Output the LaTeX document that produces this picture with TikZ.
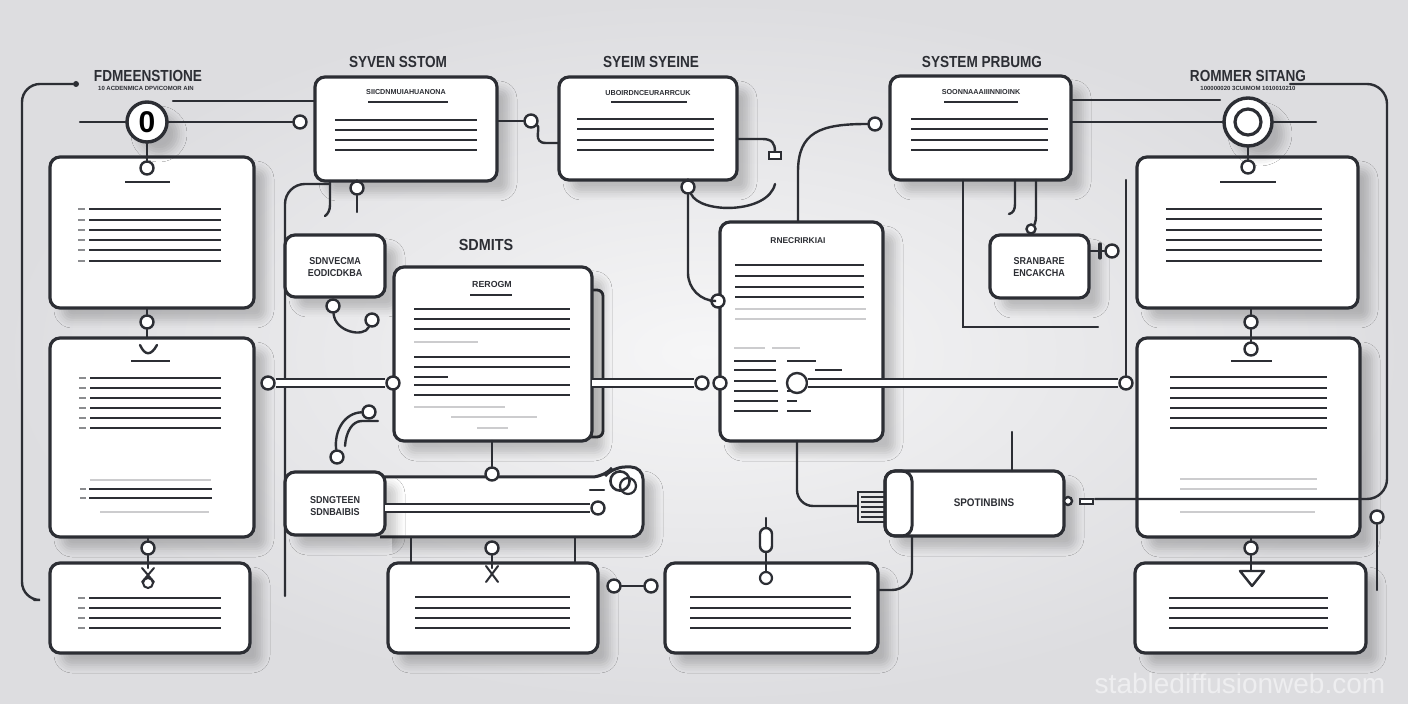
\documentclass[tikz,border=0pt]{standalone}
\usepackage{fontspec}
\setmainfont{Liberation Sans}
\usepackage{graphicx}
\usetikzlibrary{shadows.blur}
\definecolor{ink}{RGB}{44,46,52}
\definecolor{lgray}{RGB}{204,204,206}
\definecolor{bgin}{RGB}{246,246,247}
\definecolor{bgout}{RGB}{221,221,224}
\definecolor{wm}{RGB}{238,238,240}
\newcommand\sq[2]{\scalebox{#1}[1]{#2}}
\newcommand\mkbox[6][]{\node[box,#1,minimum width={(#5-#3)*0.5pt},minimum height={(#6-#4)*0.5pt}] (#2) at ({(#3+#5)/2},{(#4+#6)/2}) {};}
\newcommand\dline[3]{\draw[txt] (#1,#3) -- (#2,#3);}
\newcommand\gline[3]{\draw[gtxt] (#1,#3) -- (#2,#3);}
\newcommand\tick[3]{\draw[tk] (#1,#3) -- (#2,#3);}
\tikzset{
 shd/.style={blur shadow={shadow xshift=6pt,shadow yshift=-6pt,shadow blur radius=4pt,shadow opacity=20}},
 box/.style={draw=ink,line width=1.6pt,fill=white,rounded corners=5pt,inner sep=0pt,outer sep=0pt,shd},
 txt/.style={draw=ink,line width=1pt},
 gtxt/.style={draw=lgray,line width=1.3pt},
 tk/.style={draw=ink!55,line width=0.6pt},
 conn/.style={draw=ink,line width=1.2pt,line cap=round},
 pipe/.style={draw=ink,line width=1.1pt,double=white,double distance=2.6pt},
 pin/.style={circle,draw=ink,line width=1.2pt,fill=white,minimum size=6.5pt,inner sep=0pt},
 dot/.style={circle,fill=ink,minimum size=3pt,inner sep=0pt},
 bigc/.style={circle,draw=ink,line width=1.7pt,fill=white,inner sep=0pt,shd},
 title/.style={font=\bfseries\fontsize{8}{8}\selectfont,text=ink,inner sep=0pt},
 sub/.style={font=\bfseries\fontsize{3}{3}\selectfont,text=ink,inner sep=0pt},
 hdr/.style={font=\bfseries\fontsize{3.6}{3.6}\selectfont,text=ink,inner sep=0pt},
 lbl/.style={font=\bfseries\fontsize{5}{5.8}\selectfont,text=ink,inner sep=0pt,align=center},
}
\begin{document}
\begin{tikzpicture}[x=0.5pt,y=-0.5pt]
\useasboundingbox (0,0) rectangle (1408,704);
\shade[inner color=bgin,outer color=bgout] (0,0) rectangle (1408,704);

% ---------- titles
\node[title] (h1) at (148,76) {\sq{0.85}{FDMEENSTIONE}};
\node[sub] (h1s) at (146,88) {10 ACDENMICA DPVICOMOR AIN};
\node[title] (h2) at (398,62) {\sq{0.85}{SYVEN SSTOM}};
\node[title] (h3) at (651,62) {\sq{0.85}{SYEIM SYEINE}};
\node[title] (h4) at (982,62) {\sq{0.85}{SYSTEM PRBUMG}};
\node[title] (h5) at (1248,76) {\sq{0.85}{ROMMER SITANG}};
\node[sub] (h5s) at (1248,88) {100000020 3CUIMOM 1010010210};
\node[title] (h6) at (486,245) {\sq{0.9}{SDMITS}};
\node[font=\fontsize{14}{14}\selectfont,text=wm,inner sep=0pt] (wmk) at (1240,683) {stablediffusionweb.com};

% ---------- back page of D1 and bar of S4
\draw[ink,line width=1.4pt,fill=gray!25,rounded corners=3pt] (570,290) rectangle (603,437);
\draw[draw=ink,line width=1.5pt,fill=white,rounded corners=6pt,shd] (380,477) -- (604,477) -- (613,467) -- (643,467) -- (643,537) -- (380,537);
\draw[ink,line width=1pt,fill=gray!18] (858,492) rectangle (886,522);
\foreach \yy in {497,502,507,512,517} \draw[ink,line width=0.6pt] (861,\yy) -- (884,\yy);

% ---------- boxes
\mkbox{L1}{50}{157}{254}{308}
\mkbox{L2}{50}{338}{254}{537}
\mkbox{L3}{50}{563}{250}{653}
\mkbox{T1}{315}{77}{497}{181}
\mkbox{T2}{559}{77}{737}{180}
\mkbox{T3}{890}{76}{1071}{180}
\mkbox{R1}{1137}{157}{1358}{308}
\mkbox{R2}{1137}{338}{1360}{537}
\mkbox{R3}{1135}{563}{1366}{653}
\mkbox{S1}{285}{235}{385}{297}
\mkbox{D1}{394}{267}{592}{441}
\mkbox{D2}{720}{222}{883}{441}
\mkbox{S2}{990}{235}{1089}{298}
\mkbox{S4}{285}{472}{385}{535}
\mkbox{B1}{388}{563}{598}{653}
\mkbox{B2}{665}{563}{878}{653}
\mkbox{S3}{885}{471}{1064}{536}
\draw[ink,line width=1.5pt,rounded corners=5pt] (885,471) rectangle (912,536);

% ---------- box labels
\node[lbl] (s1t) at (335,267) {\sq{0.9}{SDNVECMA}\\\sq{0.9}{EODICDKBA}};
\node[lbl] (s2t) at (1039,267) {\sq{0.9}{SRANBARE}\\\sq{0.9}{ENCAKCHA}};
\node[lbl] (s4t) at (335,506) {\sq{0.9}{SDNGTEEN}\\\sq{0.9}{SDNBAIBIS}};
\node[lbl,font=\bfseries\fontsize{5.5}{5.5}\selectfont] (s3t) at (984,503) {\sq{0.9}{SPOTINBINS}};

% ---------- content of T1, T2, T3
\node[hdr] (t1h) at (406,92) {SIICDNMUIAHUANONA};
\dline{368}{448}{102}
\foreach \yy in {120,130,140,150} {\dline{335}{477}{\yy}}
\node[hdr] (t2h) at (648,93) {UBOIRDNCEURARRCUK};
\dline{611}{687}{102}
\foreach \yy in {119,129,140,150} {\dline{577}{714}{\yy}}
\node[hdr] (t3h) at (981,92) {SOONNAAAIIINNIOINK};
\dline{944}{1018}{102}
\foreach \yy in {119,129,140,150} {\dline{911}{1048}{\yy}}

% ---------- content of L1, L2, L3
\dline{125}{170}{182}
\foreach \yy in {209,220,230,240,250,261} {\dline{89}{221}{\yy}\tick{78}{85}{\yy}}
\draw[conn] (140,345) .. controls (145,356) and (151,356) .. (157,345);
\dline{131}{170}{361}
\foreach \yy in {378,388,398,408,418,428} {\dline{90}{221}{\yy}\tick{79}{86}{\yy}}
\gline{90}{211}{480}
\dline{89}{212}{489}
\dline{89}{212}{498}
\tick{80}{86}{489}\tick{80}{86}{498}
\gline{100}{209}{512}
\foreach \yy in {598,608,618,628} {\dline{89}{221}{\yy}\tick{78}{85}{\yy}}

% ---------- content of R1, R2, R3
\dline{1220}{1276}{182}
\foreach \yy in {209,219,230,240,250,261} {\dline{1166}{1322}{\yy}}
\dline{1231}{1272}{361}
\foreach \yy in {377,388,398,408,418,428} {\dline{1170}{1327}{\yy}}
\gline{1180}{1317}{479}
\gline{1180}{1317}{489}
\gline{1180}{1315}{512}
\foreach \yy in {598,608,618,628} {\dline{1169}{1328}{\yy}}

% ---------- content of D1
\node[hdr,font=\bfseries\fontsize{4.4}{4.4}\selectfont] (d1h) at (492,284) {REROGM};
\dline{470}{512}{295}
\foreach \yy in {309,319,329,357,367,385,395} {\dline{414}{570}{\yy}}
\gline{414}{478}{342}
\dline{414}{448}{377}
\gline{414}{505}{407}
\gline{451}{537}{417}
\gline{477}{508}{428}

% ---------- content of D2
\node[hdr,font=\bfseries\fontsize{4.2}{4.2}\selectfont] (d2h) at (798,241) {RNECRIRKIAI};
\foreach \yy in {265,276,287,297} {\dline{735}{864}{\yy}}
\gline{735}{866}{309}
\gline{735}{866}{319}
\gline{734}{765}{348}
\gline{772}{800}{348}
\dline{734}{776}{361}\dline{787}{816}{361}
\dline{734}{776}{370}\dline{815}{842}{370}
\dline{734}{776}{381}
\dline{734}{778}{391}\dline{787}{802}{391}
\dline{734}{778}{401}\dline{787}{797}{401}
\dline{734}{778}{411}\dline{787}{811}{411}

% ---------- content of B1, B2
\foreach \yy in {597,608,618,628} {\dline{415}{570}{\yy}\dline{690}{851}{\yy}}

% ---------- left frame and left circle
\node[dot] (lfd) at (76,84) {};
\coordinate (lfe) at (34,600);
\draw[conn,rounded corners=9pt] (lfd) -- (22,84) -- (22,600) -- (lfe);
\node[bigc,minimum size=20pt] (c0) at (147,122) {\bfseries\fontsize{15}{15}\selectfont 0};
\coordinate (c0l) at (80,122);
\node[pin] (p1) at (300,122) {};
\draw[conn] (c0l) -- (c0);
\draw[conn] (c0) -- (p1);
\coordinate (a1) at (173,101);
\draw[conn] (a1) -- (a1 -| T1.west);
\node[pin] (p2) at (147,168) {};
\draw[conn] (c0) -- (p2);

% ---------- left column pins
\node[pin] (p3) at (147,322) {};
\draw[conn] (p3 |- L1.south) -- (p3);
\draw[conn] (p3) -- (p3 |- L2.north);
\node[pin] (p4) at (148,548) {};
\draw[conn] (p4 |- L2.south) -- (p4);
\coordinate (k0) at (148,568);
\draw[conn] (p4) -- (k0);
\draw[conn,line width=1pt] (142,568) -- (154,582) (154,568) -- (142,582);
\draw[ink,line width=1pt,fill=white] (148,583) circle (2.5pt);

% ---------- T1 and T2 connectors
\node[pin] (p5) at (531,121) {};
\draw[conn] (T1.east |- p5) -- (p5);
\coordinate (k1) at (546,143);
\draw[conn] (p5) .. controls (541,128) and (532,143) .. (k1) -- (k1 -| T2.west);
\coordinate (k2) at (762,139);
\draw[conn] (k2 -| T2.east) -- (k2) .. controls (772,139) and (775,143) .. (775,152);
\draw[ink,line width=1pt,fill=white] (769,152) rectangle (781,159);
\node[pin] (p6) at (688,187) {};
\draw[conn] (p6 |- T2.south) -- (p6);
\node[pin] (p7) at (718,301) {};
\draw[conn,rounded corners=14pt] (p6) -- (688,301) -- (p7);
\coordinate (k3) at (775,184);
\draw[conn] (p6) .. controls (700,214) and (768,214) .. (k3);
\node[pin] (p8) at (875,124) {};
\coordinate (k4) at (798,172);
\draw[conn] (p8) .. controls (820,124) and (798,132) .. (k4) -- (k4 |- D2.north);

% ---------- T1 hooks and left vertical line
\coordinate (k5) at (330,205);
\draw[conn] (k5 |- T1.south) -- (k5) .. controls (330,210) and (328,214) .. (325,216);
\coordinate (vl1) at (285,596);
\coordinate (vl2) at (330,184);
\draw[conn,rounded corners=10pt] (vl2) -- (285,184) -- (vl1);
\node[pin] (p9) at (357,188) {};
\draw[conn] (p9 |- T1.south) -- (p9);
\coordinate (k5b) at (357,212);
\draw[conn] (p9) -- (k5b);

% ---------- S1 wiggle and arc
\node[pin] (p10) at (333,306) {};
\node[pin] (p11) at (372,320) {};
\draw[conn] (p10) .. controls (335,332) and (364,338) .. (p11);
\node[pin] (p12) at (369,412) {};
\node[pin] (p13) at (337,457) {};
\draw[conn] (p12) .. controls (345,413) and (334,430) .. (p13);
\coordinate (k6a) at (378,421);
\draw[conn] (k6a) -- (362,421) .. controls (352,421) and (346,432) .. (345,446);

% ---------- pipes at y 383
\node[pin] (p14) at (268,383) {};
\node[pin] (p15) at (393,383) {};
\draw[pipe] (p14) -- (p15);
\node[pin] (p16) at (702,383) {};
\node[pin] (p17) at (720,383) {};
\draw[pipe] (p16 -| D1.east) -- (p16);
\node[pin] (p19) at (1126,383) {};
\node[pin,minimum size=10pt] (p18) at (797,383) {};
\draw[pipe] (p18) -- (p19);
\coordinate (k14) at (1126,180);
\draw[conn] (k14) -- (p19);

% ---------- D1 bottom and S4 bar
\node[pin] (p20) at (492,474) {};
\draw[conn] (p20 |- D1.south) -- (p20);
\node[pin] (p32) at (598,508) {};
\draw[pipe] (S4.east |- p32) -- (p32);
\draw[ink,line width=1.3pt,fill=white] (620,481) circle (4.8pt);
\draw[ink,line width=1.1pt] (628,486) circle (4pt);
\draw[conn] (590,490) -- (604,490);
\coordinate (k15) at (411,537);
\draw[conn] (k15) -- (k15 |- B1.north);
\coordinate (k15b) at (575,537);
\draw[conn] (k15b) -- (k15b |- B1.north);

% ---------- D2 and S3 connectors
\coordinate (k6) at (858,506);
\draw[conn,rounded corners=8pt] ([xshift=-2.25pt]D2.south) |- (k6);
\coordinate (k7) at (1012,432);
\draw[conn] (k7) -- (k7 |- S3.north);
\node[pin,minimum size=4pt] (p21) at (1068,501) {};
\draw[ink,line width=1pt,fill=white] (1080,499) rectangle (1093,504);

% ---------- right frame and right circle
\coordinate (rf0) at (1290,84);
\coordinate (rf1) at (1095,499);
\draw[conn,rounded corners=10pt] (rf0) -- (1387,84) -- (1387,499) -- (rf1);
\node[bigc,minimum size=24pt] (c1) at (1248,122) {};
\draw[ink,line width=1.6pt] (c1.center) circle (6.5pt);
\coordinate (a2) at (1220,100);
\draw[conn] (a2 -| T3.east) -- (a2);
\draw[conn] (c1 -| T3.east) -- (c1);
\coordinate (a3) at (1316,122);
\draw[conn] (c1) -- (a3);
\node[pin] (p22) at (1248,167) {};
\draw[conn] (c1) -- (p22);

% ---------- right column pins
\node[pin] (p23) at (1251,322) {};
\draw[conn] (p23 |- R1.south) -- (p23);
\node[pin] (p24) at (1251,349) {};
\draw[conn] (p23) -- (p24);
\node[pin] (p25) at (1251,548) {};
\draw[conn] (p25 |- R2.south) -- (p25);
\coordinate (k25) at (1251,570);
\draw[conn] (p25) -- (k25);
\draw[conn,line join=round,fill=white] (1240,571) -- (1264,571) -- (1252,586) -- cycle;
\node[pin] (p26) at (1377,517) {};
\coordinate (k8) at (1377,590);
\draw[conn] (p26) -- (k8);

% ---------- T3 bottom lines and S2
\coordinate (x963) at (963,327);
\coordinate (k9) at (1098,327);
\draw[conn] (x963 |- T3.south) -- (x963) -- (k9);
\coordinate (k12) at (1015,204);
\draw[conn] (k12 |- T3.south) -- (k12) .. controls (1015,210) and (1013,213) .. (1009,214);
\node[pin,minimum size=4.5pt] (p27) at (1031,229) {};
\coordinate (k13) at (1036,215);
\draw[conn] (k13 |- T3.south) -- (k13) .. controls (1036,223) and (1034,225) .. (p27);
\node[pin] (p28) at (1112,251) {};
\draw[conn] (p28 -| S2.east) -- (p28);
\draw[conn,line width=1.6pt] (1100,244) -- (1100,258);

% ---------- bottom row
\node[pin] (p29) at (492,548) {};
\coordinate (k29) at (492,568);
\draw[conn] (p29) -- (k29);
\draw[conn,line width=1pt] (486,566) -- (498,582) (498,566) -- (486,582);
\node[pin] (p30) at (614,586) {};
\node[pin] (p31) at (651,586) {};
\draw[conn] (p30) -- (p31);
\draw[conn] (766,518) -- (766,530);
\draw[conn,rounded corners=3pt,fill=white] (760,528) -- (760,552) -- (772,552) -- (772,528) -- cycle;
\draw[conn] (766,552) -- (766,572);
\draw[ink,line width=1.1pt,fill=white] (766,578) circle (3pt);
\coordinate (k16) at (878,590);
\coordinate (k17) at (912,590);
\draw[conn,rounded corners=10pt] (k16) -- (k17) -- (k17 |- S3.south);
\end{tikzpicture}
\end{document}
